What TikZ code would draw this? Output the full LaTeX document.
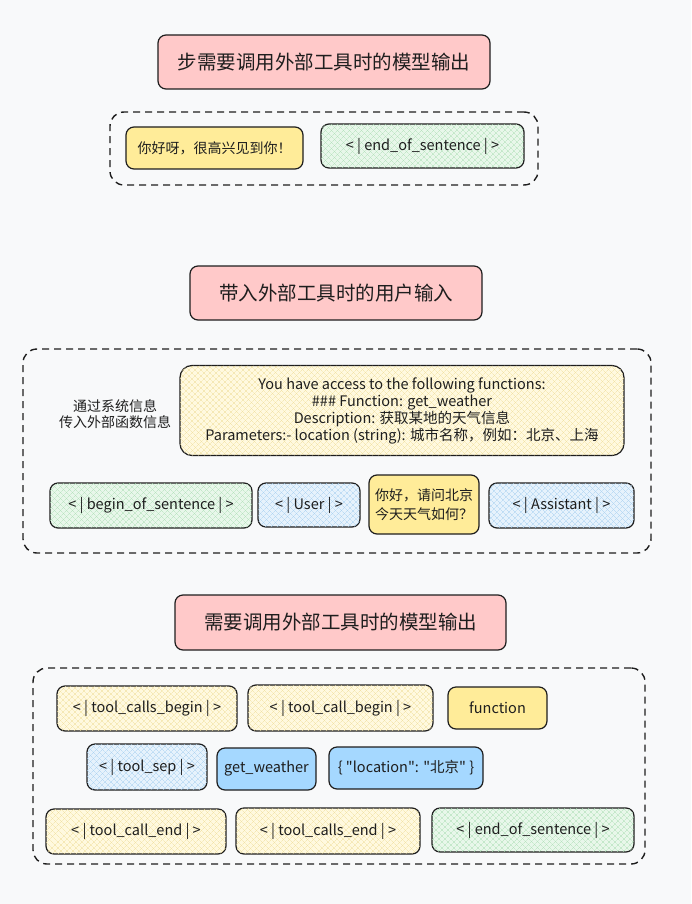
\documentclass[tikz,border=0pt]{standalone}
\usepackage{fontspec}
\setmainfont{Noto Sans CJK SC}
\newfontfamily\cjkplain{Noto Sans CJK SC}
\usetikzlibrary{patterns.meta}
\definecolor{bg}{HTML}{F8F9FA}
\definecolor{pinkc}{HTML}{FFC9C9}
\definecolor{yelc}{HTML}{FFEC99}
\definecolor{yelh}{HTML}{FFF9DF}
\definecolor{yelp}{HTML}{F0E0A0}
\definecolor{grnh}{HTML}{E8F7EA}
\definecolor{grnp}{HTML}{B2E0BA}
\definecolor{bluc}{HTML}{A5D8FF}
\definecolor{bluh}{HTML}{E6F2FC}
\definecolor{blup}{HTML}{AAD1F0}
\definecolor{inkc}{HTML}{1E1E1E}
\tikzset{
  base/.style={draw=inkc, line width=1.2pt, rounded corners=8pt, align=center, inner sep=0pt, font=\fontsize{14.5}{17}\selectfont, text=inkc},
  titlebox/.style={base, fill=pinkc, font=\fontsize{19.5}{22}\selectfont},
  container/.style={draw=inkc, line width=1.4pt, dash pattern=on 7pt off 5pt, rounded corners=14pt},
  yellowsolid/.style={base, fill=yelc},
  bluesolid/.style={base, fill=bluc},
  hatchy/.style={base, preaction={fill=yelh}, postaction={pattern={Lines[angle=45,distance=4pt,line width=0.35pt]}, pattern color=yelp}, preaction={pattern={Lines[angle=-45,distance=4pt,line width=0.35pt]}, pattern color=yelp}},
  hatchg/.style={base, preaction={fill=grnh}, postaction={pattern={Lines[angle=45,distance=4pt,line width=0.35pt]}, pattern color=grnp}, preaction={pattern={Lines[angle=-45,distance=4pt,line width=0.35pt]}, pattern color=grnp}},
  hatchb/.style={base, preaction={fill=bluh}, postaction={pattern={Lines[angle=45,distance=4pt,line width=0.35pt]}, pattern color=blup}, preaction={pattern={Lines[angle=-45,distance=4pt,line width=0.35pt]}, pattern color=blup}},
  plain/.style={align=center, font=\fontsize{14}{16.5}\selectfont, text=inkc, inner sep=0pt}
}
\begin{document}
\begin{tikzpicture}[x=1pt,y=-1pt]
\fill[bg] (0,0) rectangle (691,904);
\useasboundingbox (0,0) rectangle (691,904);

% Section 1
\node[titlebox, minimum width=332pt, minimum height=54pt] (t1) at (324,62) {步需要调用外部工具时的模型输出};
\node[container, minimum width=428pt, minimum height=73pt] (c1) at (324,148.5) {};
\node[yellowsolid, minimum width=177pt, minimum height=42pt, font=\fontsize{14}{17}\selectfont] (a1) at (214.5,148) {你好呀，很高兴见到你！};
\node[hatchg, minimum width=203pt, minimum height=44pt] (a2) at (422.5,146) {< | end\_of\_sentence | >};

% Section 2
\node[titlebox, minimum width=292pt, minimum height=54pt] (t2) at (336,293) {带入外部工具时的用户输入};
\node[container, minimum width=628pt, minimum height=204pt] (c2) at (337,451) {};
\node[plain] (lbl) at (115,414) {通过系统信息\\传入外部函数信息};
\node[hatchy, minimum width=444pt, minimum height=90pt, rounded corners=12pt, font=\fontsize{14.5}{17}\selectfont] (big) at (402,410.5) {You have access to the following functions:\\\#\#\# Function: get\_weather\\Description: 获取某地的天气信息\\Parameters:- location (string): 城市名称，例如：北京、上海};
\node[hatchg, minimum width=202pt, minimum height=45pt] (b1) at (151,505.5) {< | begin\_of\_sentence | >};
\node[hatchb, minimum width=102pt, minimum height=44pt] (b2) at (309,505) {< | User | >};
\node[yellowsolid, minimum width=110pt, minimum height=59pt, font=\fontsize{14}{19}\selectfont] (b3) at (424,504.5) {你好，请问北京\\今天天气如何？};
\node[hatchb, minimum width=145pt, minimum height=45pt] (b4) at (561.5,505.5) {< | Assistant | >};

% Section 3
\node[titlebox, minimum width=331pt, minimum height=55pt] (t3) at (340.5,622.5) {需要调用外部工具时的模型输出};
\node[container, minimum width=612pt, minimum height=196pt] (c3) at (339,766) {};
\node[hatchy, minimum width=180pt, minimum height=45pt] (r1a) at (147,708.5) {< | tool\_calls\_begin | >};
\node[hatchy, minimum width=185pt, minimum height=46pt] (r1b) at (340.5,708) {< | tool\_call\_begin | >};
\node[yellowsolid, minimum width=99pt, minimum height=42pt] (r1c) at (497.5,708) {function};
\node[hatchb, minimum width=120pt, minimum height=46pt] (r2a) at (147,767) {< | tool\_sep | >};
\node[bluesolid, minimum width=99pt, minimum height=42pt] (r2b) at (266.5,769) {get\_weather};
\node[bluesolid, minimum width=154pt, minimum height=42pt] (r2c) at (406,768) {{\cjkplain \{ "location": "北京" \}}};
\node[hatchy, minimum width=180pt, minimum height=45pt] (r3a) at (136,831.5) {< | tool\_call\_end | >};
\node[hatchy, minimum width=184pt, minimum height=46pt] (r3b) at (328,831) {< | tool\_calls\_end | >};
\node[hatchg, minimum width=202pt, minimum height=44pt] (r3c) at (533,830) {< | end\_of\_sentence | >};
\end{tikzpicture}
\end{document}
